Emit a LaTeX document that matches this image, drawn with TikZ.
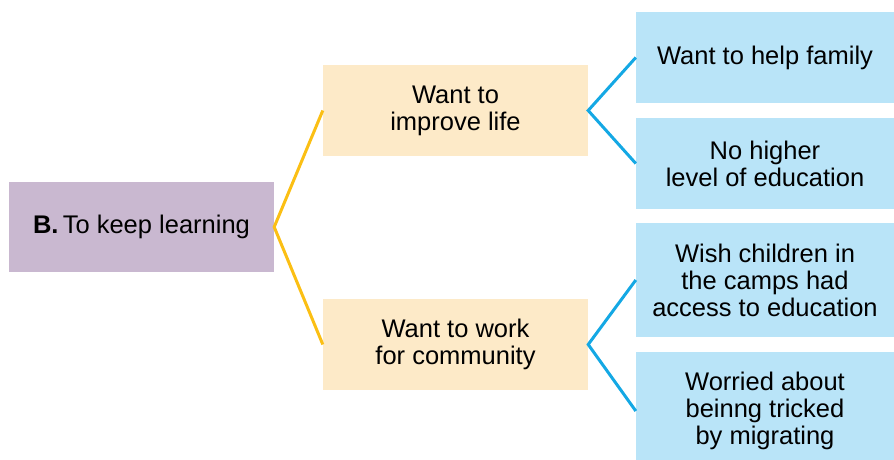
\documentclass[tikz,border=0pt]{standalone}
\usepackage{fontspec}
\setmainfont{Liberation Sans}
\definecolor{rootpurple}{HTML}{C9B8D0}
\definecolor{midyellow}{HTML}{FDEAC8}
\definecolor{leafblue}{HTML}{B9E4F8}
\definecolor{linegold}{HTML}{FBBF14}
\definecolor{lineblue}{HTML}{14A8E4}

\begin{document}
\begin{tikzpicture}[x=1pt, y=-1pt,
    box/.style={inner sep=0pt, align=center, font=\fontsize{25.5}{27}\selectfont},
    rootbox/.style={box, fill=rootpurple, minimum width=265pt, minimum height=90pt},
    midbox/.style={box, fill=midyellow, minimum width=265pt, minimum height=91pt},
    leafbox/.style={box, fill=leafblue, minimum width=258pt},
    goldline/.style={linegold, line width=3pt},
    blueline/.style={lineblue, line width=3pt}]
    \clip (0,0) rectangle (894,460);
    % Stamm und zwei Gruende
    \node[rootbox] (root) at (141.5,227) {\textbf{B.}\,To keep learning};
    \node[midbox] (life) at (455.5,110.5) {Want to\\improve life};
    \node[midbox] (community) at (455.5,344.5) {Want to work\\for community};
    % rechte Spalte
    \node[leafbox, minimum height=91pt] (family) at (765,57.5) {Want to help family};
    \node[leafbox, minimum height=91pt] (higher) at (765,163.5) {No higher\\level of education};
    \node[leafbox, minimum height=114pt] (camps) at (765,280) {Wish children in\\the camps had\\access to education};
    \node[leafbox, minimum height=118pt] (tricked) at (765,411) {Worried about\\beinng tricked\\by migrating};
    \draw[goldline] (life.west) -- (root.east) -- (community.west);
    \draw[blueline] (family.west) -- (life.east) -- (higher.west);
    \draw[blueline] (camps.west) -- (community.east) -- (tricked.west);
\end{tikzpicture}
\end{document}
